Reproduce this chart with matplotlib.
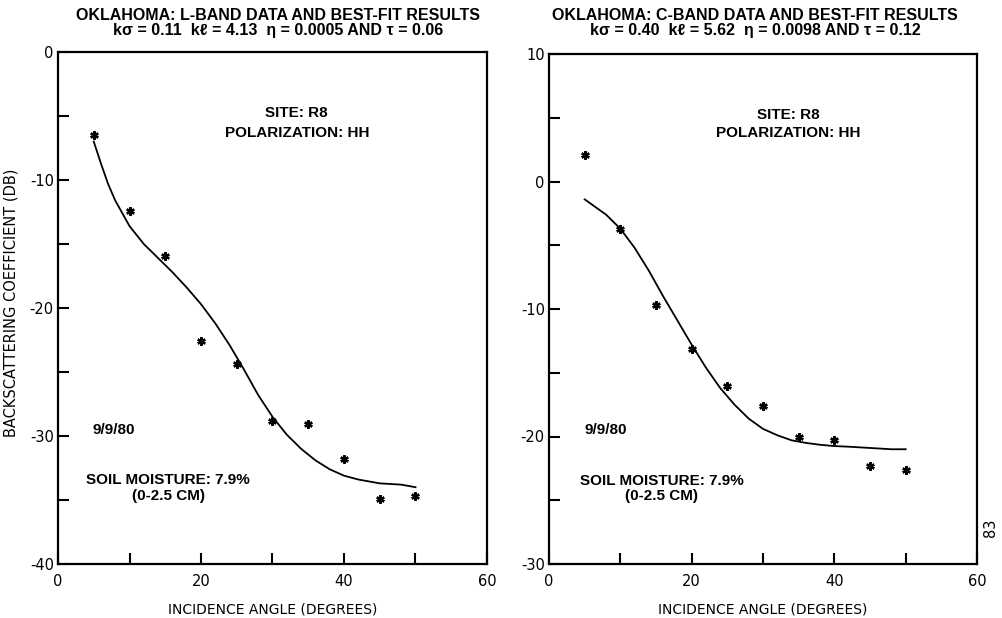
import matplotlib
matplotlib.use("Agg")
import matplotlib.pyplot as plt
from matplotlib.ticker import MultipleLocator

plt.rcParams['axes.unicode_minus'] = False

# ---------------- data ----------------
# L-band (left panel)
l_angle = [5, 10, 15, 20, 25, 30, 35, 40, 45, 50]
l_meas = [-6.5, -12.4, -15.9, -22.6, -24.4, -28.8, -29.1, -31.8, -34.95, -34.7]
l_fit_angle = [5, 6, 7, 8, 10, 12, 14, 16, 18, 20, 22, 24, 26, 28, 30, 32, 34, 36, 38, 40, 42, 45, 48, 50]
l_fit = [-7.0, -8.7, -10.3, -11.6, -13.6, -15.0, -16.1, -17.2, -18.4, -19.7, -21.2, -22.9,
         -24.8, -26.8, -28.5, -29.9, -31.0, -31.9, -32.6, -33.1, -33.4, -33.7, -33.8, -34.0]

# C-band (right panel)
c_angle = [5, 10, 15, 20, 25, 30, 35, 40, 45, 50]
c_meas = [2.1, -3.7, -9.7, -13.1, -16.0, -17.6, -20.0, -20.3, -22.3, -22.6]
c_fit_angle = [5, 6, 8, 10, 12, 14, 16, 18, 20, 22, 24, 26, 28, 30, 32, 34, 36, 38, 40, 42, 45, 48, 50]
c_fit = [-1.4, -1.8, -2.6, -3.7, -5.2, -7.0, -9.0, -10.9, -12.8, -14.6, -16.2, -17.5,
         -18.6, -19.4, -19.9, -20.3, -20.5, -20.65, -20.75, -20.8, -20.9, -21.0, -21.0]

l_title = ["OKLAHOMA: L-BAND DATA AND BEST-FIT RESULTS",
           "k\u03c3 = 0.11  k\u2113 = 4.13  \u03b7 = 0.0005 AND \u03c4 = 0.06"]
c_title = ["OKLAHOMA: C-BAND DATA AND BEST-FIT RESULTS",
           "k\u03c3 = 0.40  k\u2113 = 5.62  \u03b7 = 0.0098 AND \u03c4 = 0.12"]
l_ylim = (-40, 0)
c_ylim = (-30, 10)
x_label = "INCIDENCE ANGLE (DEGREES)"
y_label = "BACKSCATTERING COEFFICIENT (DB)"

SANS = ['Liberation Sans', 'DejaVu Sans']
PLOT = ['DejaVu Sans']

W, H = 1002, 618
fig = plt.figure(figsize=(W / 100, H / 100), dpi=100)


def px_axes(l, t, r, b):
    return fig.add_axes([l / W, 1 - b / H, (r - l) / W, (b - t) / H])


axL = px_axes(58, 52, 487, 564)
axR = px_axes(549, 54, 977, 564)


def style(ax, ylim):
    ax.set_xlim(0, 60)
    ax.set_ylim(*ylim)
    ax.xaxis.set_major_locator(MultipleLocator(20))
    ax.xaxis.set_minor_locator(MultipleLocator(10))
    ax.yaxis.set_major_locator(MultipleLocator(10))
    ax.yaxis.set_minor_locator(MultipleLocator(5))
    ax.tick_params(axis='both', which='both', direction='in', length=8, width=1.5,
                   top=False, right=False)
    ax.tick_params(axis='x', which='major', pad=7)
    ax.tick_params(axis='y', which='major', pad=3)
    for lab in ax.get_xticklabels() + ax.get_yticklabels():
        lab.set_family(PLOT)
        lab.set_fontsize(10.5)
    for s in ax.spines.values():
        s.set_linewidth(1.6)
    ax.set_xlabel(x_label, family=PLOT, fontsize=10)
    ax.xaxis.set_label_coords(0.5, -0.075)


def panel(ax, ang, meas, fang, fit, ylim):
    style(ax, ylim)
    ax.plot(fang, fit, color='black', lw=1.3)
    ax.plot(ang, meas, linestyle='none', marker=(6, 2, 0), markersize=6,
            markeredgewidth=1.7, color='black')


panel(axL, l_angle, l_meas, l_fit_angle, l_fit, l_ylim)
panel(axR, c_angle, c_meas, c_fit_angle, c_fit, c_ylim)

axL.set_ylabel(y_label, family=PLOT, fontsize=10.5)
axL.yaxis.set_label_coords(-0.092, 0.51)

# annotations
FS = 11
tk = dict(family=SANS, fontsize=FS, fontweight='bold', ha='center', va='center')
axL.text(33.4, -4.8, "SITE: R8", **tk)
axL.text(33.4, -6.3, "POLARIZATION: HH", **tk)
axL.text(4.8, -29.5, "9/9/80", family=SANS, fontsize=FS, fontweight='bold', ha='left', va='center')
axL.text(15.4, -33.4, "SOIL MOISTURE: 7.9%", **tk)
axL.text(15.4, -34.7, "(0-2.5 CM)", **tk)

axR.text(33.6, 5.2, "SITE: R8", **tk)
axR.text(33.6, 3.8, "POLARIZATION: HH", **tk)
axR.text(5.0, -19.5, "9/9/80", family=SANS, fontsize=FS, fontweight='bold', ha='left', va='center')
axR.text(15.8, -23.5, "SOIL MOISTURE: 7.9%", **tk)
axR.text(15.8, -24.7, "(0-2.5 CM)", **tk)

# titles
for cx, lines in ((278, l_title), (755, c_title)):
    fig.text(cx / W, 1 - 16 / H, lines[0], family=SANS, fontsize=11.5, fontweight='bold',
             ha='center', va='center')
    fig.text(cx / W, 1 - 30 / H, lines[1], family=SANS, fontsize=11.5, fontweight='bold',
             ha='center', va='center')

fig.text(991 / W, 1 - 528 / H, "83", family=PLOT, fontsize=10.5, rotation=90, ha='center', va='center')

fig.savefig("out.png", dpi=100)
